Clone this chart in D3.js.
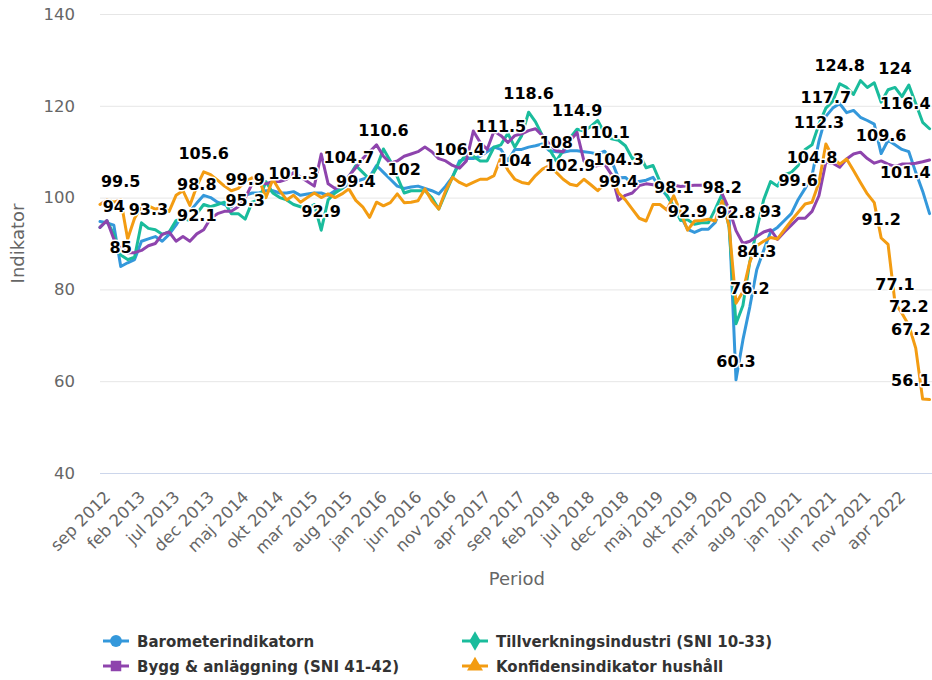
<!DOCTYPE html>
<html>
<head>
<meta charset="utf-8">
<script src="https://cdn.jsdelivr.net/npm/d3@7/dist/d3.min.js"></script>
<style>
  body { margin: 0; background: #fff; }
  svg { display: block; font-family: "DejaVu Sans", sans-serif; }
</style>
</head>
<body>
<div class="chart"></div>
<script>
var svgWidth = 932;
var svgHeight = 680;

// monthly values, sep 2012 .. sep 2022
var barometer = [
  94.8, 94.5, 94.0, 85.0, 85.8, 86.5, 90.5, 91.0, 91.5, 90.5,
  92.0, 94.0, 96.5, 97.0, 98.8, 100.5, 100.0, 99.0, 98.5, 98.0,
  99.5, 100.5, 101.0, 101.0, 101.5, 101.5, 101.0, 101.0, 101.3, 100.5,
  100.8, 101.0, 101.0, 100.5, 101.5, 102.0, 103.0, 103.5, 104.0, 104.5,
  107.0, 105.5, 104.0, 102.5, 102.0, 102.3, 102.5, 102.0, 101.5, 100.8,
  102.5, 104.5, 108.0, 108.5, 108.5, 109.0, 110.0, 111.0, 110.5, 108.0,
  110.5, 110.5, 111.0, 111.3, 111.7, 110.2, 110.0, 109.9, 110.2, 110.2,
  110.0, 109.8, 109.5, 110.1, 108.0, 104.3, 104.4, 103.0, 103.5, 103.8,
  104.4, 102.2, 100.4, 98.1, 96.0, 93.1, 92.4, 93.1, 93.1, 94.6,
  98.2, 96.0, 60.3, 69.0, 76.2, 84.3, 88.5, 92.5, 93.5, 95.0,
  96.5, 99.6, 102.0, 104.8, 112.3, 117.7, 119.5, 120.5, 118.5, 119.0,
  117.5, 116.8, 116.0, 109.6, 112.5, 111.5, 110.5, 110.0, 105.5, 101.4,
  96.5
];

var tillverkning = [
  93.5, 95.0, 92.0, 87.5, 86.5, 87.0, 94.5, 93.3, 93.0, 92.0,
  92.5, 95.0, 95.5, 95.0, 96.5, 98.5, 98.0, 98.5, 99.0, 96.5,
  96.5, 95.3, 99.0, 99.5, 103.5, 101.0, 100.0, 99.5, 98.5, 98.0,
  97.5, 98.5, 92.9, 99.5, 101.0, 102.0, 104.5, 107.0, 105.5, 104.0,
  106.5, 110.6, 108.0, 104.5, 101.0, 101.5, 101.5, 101.5, 100.0, 97.5,
  101.0, 104.5, 107.5, 109.5, 109.0, 108.0, 108.0, 111.0, 111.5, 114.0,
  111.0, 113.5, 118.6, 116.5, 113.5, 110.6, 108.0, 110.2, 113.0, 114.9,
  114.5, 115.5, 116.8, 114.0, 112.8, 112.5, 111.3, 108.5, 109.5, 106.5,
  107.0, 103.5, 100.5, 98.0, 95.0, 95.2, 94.2, 94.5, 94.5, 97.5,
  100.8, 93.5, 72.5, 76.5, 86.0, 93.0, 99.5, 103.5, 102.5, 105.0,
  105.5, 107.0, 110.5, 111.5, 116.0, 119.5, 121.0, 124.8, 124.0, 122.5,
  125.5, 124.0, 125.0, 120.8, 123.5, 124.0, 122.0, 124.5, 120.5, 116.4,
  115.0
];

var bygg = [
  93.5, 95.0, 91.0, 89.0, 88.0, 88.0, 88.5, 89.5, 90.0, 92.0,
  92.5, 90.5, 91.5, 90.5, 92.1, 93.0, 95.5, 96.5, 97.0, 97.0,
  98.0, 99.9, 103.0, 103.5, 103.0, 103.5, 103.5, 104.0, 105.5, 104.5,
  103.5, 102.5, 109.5, 103.0, 102.0, 102.5, 104.7, 106.5, 108.5, 110.0,
  111.5, 109.0, 107.5, 108.0, 109.0, 109.5, 110.0, 111.0, 110.0, 108.5,
  108.0, 107.0, 106.4, 108.0, 114.5, 112.0, 110.5, 114.5, 113.5, 112.0,
  113.5, 113.9, 114.6, 115.0, 113.5, 111.7, 110.2, 110.0, 112.4, 114.2,
  108.0, 106.6, 107.0, 107.3, 105.0, 99.4, 100.5, 101.0, 102.6, 103.0,
  102.8, 102.6, 102.8, 102.7, 102.4, 102.6, 102.7, 102.7, 102.6, 102.0,
  100.8, 97.5, 92.8, 90.0, 90.5, 91.5, 92.5, 93.0, 90.9, 92.5,
  94.0, 95.5, 95.5, 97.0, 100.4, 107.7, 107.5, 106.6, 108.4, 109.5,
  109.9, 108.5, 107.5, 108.0, 107.3, 106.8, 107.3, 107.3, 107.5, 107.8,
  108.2
];

var hushall = [
  98.5, 99.5, 99.0, 99.5, 91.0, 95.5, 98.0, 98.2, 97.5, 97.8,
  97.0, 100.5, 101.5, 98.3, 102.5, 105.6, 105.0, 103.8, 102.5, 101.5,
  102.0, 103.5, 104.3, 104.0, 100.0, 104.0, 101.5, 99.5, 100.5, 99.0,
  100.0, 101.0, 100.0, 100.8, 100.0, 100.8, 101.9, 99.4, 98.0, 95.7,
  99.0, 98.2, 98.9, 100.8, 98.9, 99.0, 99.3, 101.9, 99.3, 97.5,
  101.5, 104.4, 103.3, 102.6, 103.3, 104.0, 104.0, 104.8, 108.8, 106.0,
  104.0, 103.3, 103.0, 104.8, 106.2, 107.0, 105.5, 104.0, 102.9, 102.6,
  104.0, 102.8, 101.5, 103.0, 104.8, 101.0, 99.5, 97.5, 95.5, 94.9,
  98.5, 98.5, 97.3, 100.4, 96.8, 92.9, 94.9, 95.0, 95.3, 94.9,
  99.3, 93.8, 77.0, 79.5, 86.0, 89.5, 90.5, 91.3, 91.0, 93.0,
  95.0, 96.8, 98.6, 99.0, 103.3, 111.7, 108.8, 107.3, 108.4, 105.9,
  103.3, 100.8, 98.9, 91.2, 89.8, 77.1, 74.8, 72.2, 67.2, 56.1,
  56.0
];

var seriesNames = ["Barometerindikatorn", "Tillverkningsindustri (SNI 10-33)",
                   "Bygg & anläggning (SNI 41-42)", "Konfidensindikator hushåll"];
var seriesColors = ["#3498db", "#1abc9c", "#8e44ad", "#f39c12"];

// x axis labels, one every 5th month
var tickLabels = ["sep 2012", "feb 2013", "jul 2013", "dec 2013", "maj 2014", "okt 2014",
  "mar 2015", "aug 2015", "jan 2016", "jun 2016", "nov 2016", "apr 2017", "sep 2017",
  "feb 2018", "jul 2018", "dec 2018", "maj 2019", "okt 2019", "mar 2020", "aug 2020",
  "jan 2021", "jun 2021", "nov 2021", "apr 2022"];

var yTicks = [40, 60, 80, 100, 120, 140];

// which points carry a value label: [series, month index]
var labelPoints = [
  [3, 3], [0, 2], [0, 3], [1, 7], [3, 15], [0, 14], [2, 14], [2, 21], [1, 21], [0, 28],
  [1, 32], [2, 36], [3, 37], [1, 41], [0, 44], [2, 52], [1, 58], [1, 62], [3, 60], [1, 69],
  [1, 66], [0, 73], [3, 68], [0, 75], [2, 75], [0, 83], [3, 85], [0, 90], [2, 92], [0, 95],
  [0, 94], [0, 92], [2, 97], [0, 101], [0, 103], [0, 104], [0, 105], [1, 107], [1, 115],
  [1, 119], [0, 113], [0, 119], [3, 113], [3, 115], [3, 117], [3, 118], [3, 119]
];

var allSeries = [barometer, tillverkning, bygg, hushall];
var n = barometer.length;

var plotLeft = 100, plotTop = 14, plotBottom = 473;
var step = 6.913;
var plotRight = plotLeft + step * (n - 1) + 4;

var svg = d3.select(".chart")
  .append("svg")
  .attr("width", svgWidth)
  .attr("height", svgHeight);

var xScale = d3.scalePoint()
  .domain(d3.range(n))
  .range([plotLeft, plotLeft + step * (n - 1)]);

var yScale = d3.scaleLinear()
  .domain([40, 140])
  .range([plotBottom, plotTop]);

// grid + y labels
var leftAxis = d3.axisLeft(yScale)
  .tickValues(yTicks)
  .tickSize(-(plotRight - plotLeft))
  .tickPadding(25);

var yAxisG = svg.append("g")
  .attr("transform", `translate(${plotLeft}, 0)`)
  .call(leftAxis);
yAxisG.select(".domain").remove();
yAxisG.selectAll("line").attr("stroke", "#e6e6e6");
yAxisG.selectAll("text")
  .attr("fill", "#666")
  .style("font-size", "16.5px")
  .style("font-family", "DejaVu Sans");

// x axis
var bottomAxis = d3.axisBottom(xScale)
  .tickValues(d3.range(0, n, 5).slice(0, tickLabels.length))
  .tickFormat((d, i) => tickLabels[i])
  .tickSize(0);

var xAxisG = svg.append("g")
  .attr("transform", `translate(0, ${plotBottom})`)
  .call(bottomAxis);
xAxisG.select(".domain")
  .attr("d", `M${plotLeft},0.5H${plotRight}`)
  .attr("stroke", "#ccd6eb");
xAxisG.selectAll("text")
  .attr("y", 0)
  .attr("dy", 0)
  .attr("text-anchor", "end")
  .attr("transform", "translate(11, 25) rotate(-45)")
  .attr("fill", "#666")
  .style("font-size", "16.5px")
  .style("font-family", "DejaVu Sans");

// axis titles
svg.append("text")
  .attr("transform", `translate(24, ${(plotTop + plotBottom) / 2}) rotate(-90)`)
  .attr("text-anchor", "middle")
  .attr("fill", "#666")
  .style("font-size", "18px")
  .text("Indikator");

svg.append("text")
  .attr("x", (plotLeft + plotRight) / 2)
  .attr("y", 585)
  .attr("text-anchor", "middle")
  .attr("fill", "#666")
  .style("font-size", "18px")
  .text("Period");

// lines
var line = d3.line()
  .x((d, i) => xScale(i))
  .y(d => yScale(d));

svg.append("g")
  .selectAll("path")
  .data(allSeries)
  .enter()
  .append("path")
  .attr("d", d => line(d))
  .attr("fill", "none")
  .attr("stroke", (d, i) => seriesColors[i])
  .attr("stroke-width", 3)
  .attr("stroke-linejoin", "round")
  .attr("stroke-linecap", "round");

// data labels
var labelG = svg.append("g");
labelPoints.forEach(function(p) {
  var v = allSeries[p[0]][p[1]];
  var t = labelG.append("text")
    .attr("x", xScale(p[1]))
    .attr("y", yScale(v) - 13)
    .attr("text-anchor", "middle")
    .style("font-size", "16px")
    .style("font-weight", "bold")
    .attr("fill", "#000")
    .attr("stroke", "#fff")
    .attr("stroke-width", 3)
    .attr("stroke-linejoin", "round")
    .attr("paint-order", "stroke")
    .text(String(v));
  // keep label inside the plot on the right side
  var w = t.node().getComputedTextLength();
  var cx = xScale(p[1]);
  if (cx + w / 2 > plotRight - 3) {
    t.attr("x", plotRight - 3 - w / 2);
  }
});

// legend
var symbols = [d3.symbolCircle, d3.symbolDiamond, d3.symbolSquare, d3.symbolTriangle];
var legendPos = [[103, 641], [462, 641], [103, 666], [462, 666]];

var legend = svg.append("g")
  .selectAll("g")
  .data(seriesNames)
  .enter()
  .append("g")
  .attr("transform", (d, i) => `translate(${legendPos[i][0]}, ${legendPos[i][1]})`);

legend.append("line")
  .attr("x1", 0)
  .attr("x2", 26)
  .attr("stroke", (d, i) => seriesColors[i])
  .attr("stroke-width", 3);

legend.append("path")
  .attr("transform", "translate(13, 0)")
  .attr("d", (d, i) => d3.symbol().type(symbols[i]).size(110)())
  .attr("fill", (d, i) => seriesColors[i]);

legend.append("text")
  .attr("x", 34)
  .attr("y", 5.5)
  .attr("fill", "#333")
  .style("font-size", "15px")
  .style("font-weight", "bold")
  .text(d => d);
</script>
</body>
</html>
